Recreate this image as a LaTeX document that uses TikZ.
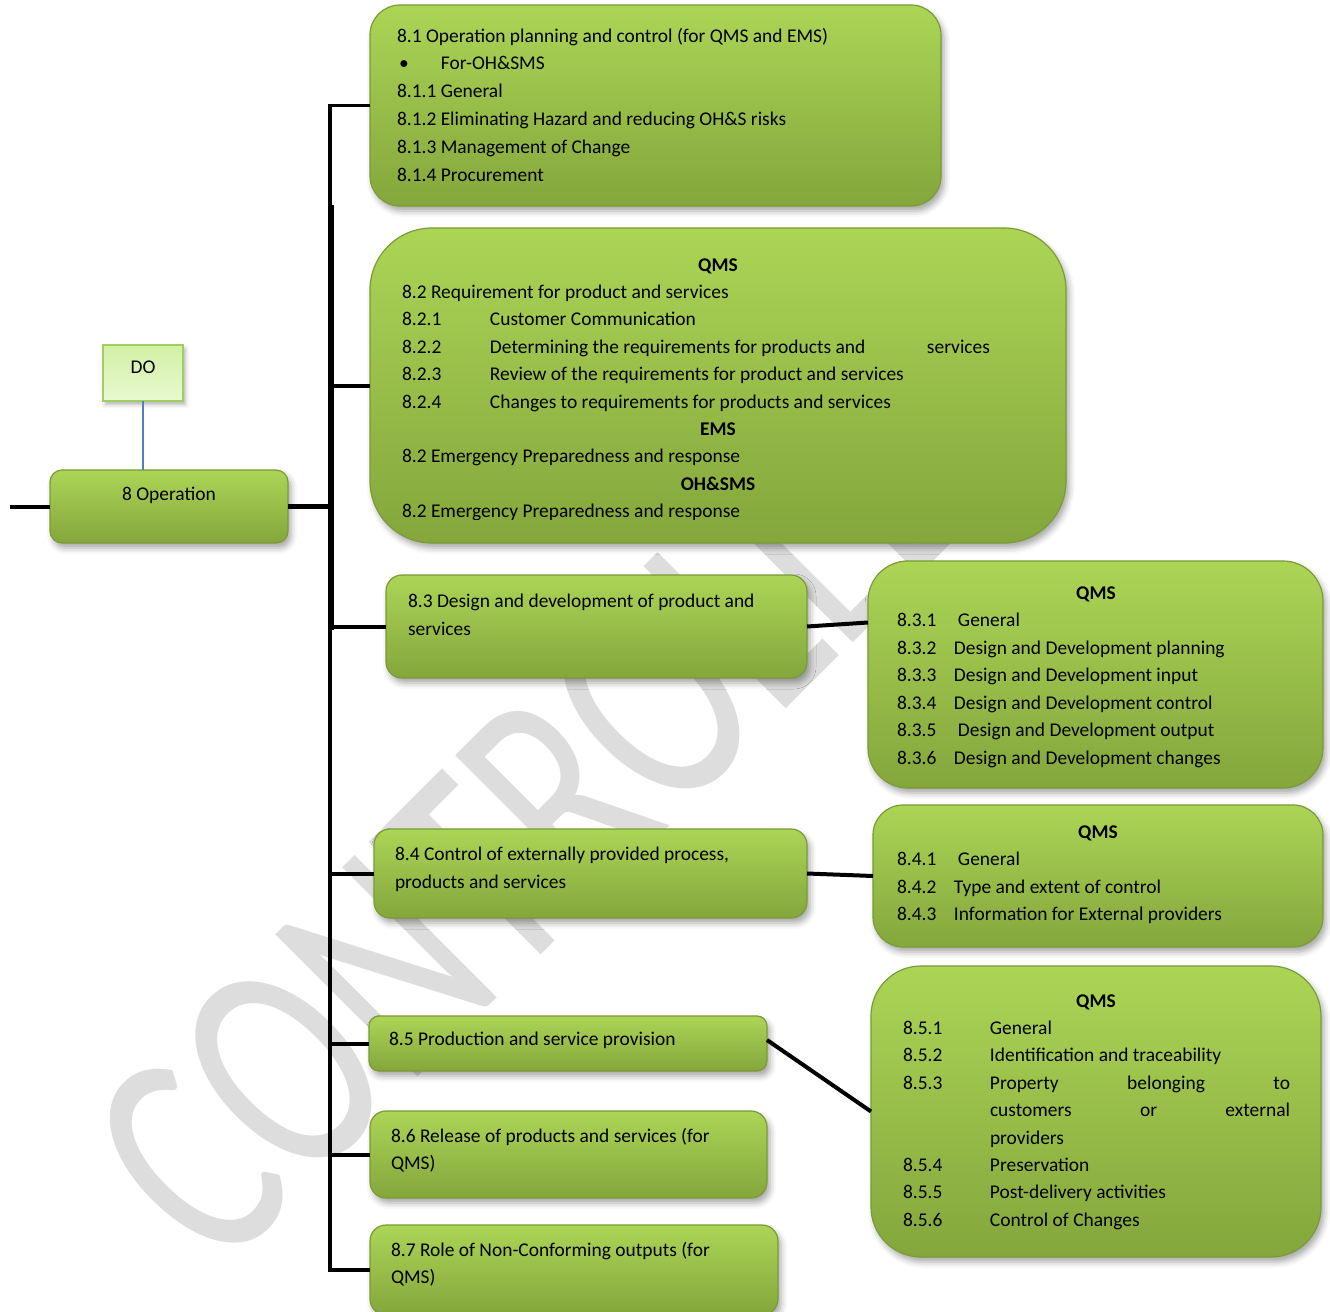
\documentclass[tikz,border=0pt]{standalone}
\usepackage{fontspec}
\setmainfont{Carlito}
\usetikzlibrary{shadows.blur}

\definecolor{gtop}{RGB}{172,213,86}
\definecolor{gbot}{RGB}{132,166,60}
\definecolor{gedge}{RGB}{122,156,52}
\definecolor{dtop}{RGB}{210,240,165}
\definecolor{dbot}{RGB}{232,249,208}
\definecolor{dedge}{RGB}{160,206,96}
\definecolor{blueline}{RGB}{79,129,189}
\definecolor{wmgray}{RGB}{221,221,221}

% one text line per node, stacked at a fixed baseline step
\newcommand\boxlines[5]{%
  \foreach \lineitem [count=\k from 0] in {#5}
    {\node[txt] (#1-\k) at ({#2},{#3+\k*#4}) {\lineitem};}}

\begin{document}
\begin{tikzpicture}[x=0.5pt,y=-0.5pt,
  every node/.style={inner sep=0pt, outer sep=0pt},
  gbox/.style={draw=gedge, line width=0.6pt, top color=gtop, bottom color=gbot,
    blur shadow={shadow xshift=1.5pt, shadow yshift=-2.5pt,
      shadow blur radius=3pt, shadow opacity=35}},
  dobox/.style={draw=dedge, line width=1pt, top color=dtop, bottom color=dbot,
    blur shadow={shadow xshift=1.2pt, shadow yshift=-1.8pt,
      shadow blur radius=2pt, shadow opacity=30}},
  txt/.style={anchor=base west, font=\fontsize{9.72}{13.8}\selectfont, text=black},
  ctxt/.style={anchor=base, font=\fontsize{9.72}{13.8}\selectfont, text=black},
  conn/.style={line width=2pt, black},
  wm/.style={font=\fontsize{112}{120}\selectfont, text=wmgray},
]
\useasboundingbox (0,0) rectangle (1330,1312);

% watermark, set in tall narrow letters
\node[wm, rotate=45] (stamp) at (580,773) {\scalebox{1}[1.4]{CONTROLLED}};

% boxes
\node[dobox, minimum width=40pt, minimum height=28pt] (do) at (143,373) {};
\node[gbox, rounded corners=6pt, minimum width=119pt, minimum height=36.5pt] (op) at (169,506.5) {};
\node[gbox, rounded corners=15pt, minimum width=285.5pt, minimum height=100.5pt] (b81) at (655.5,105.5) {};
\node[gbox, rounded corners=31pt, minimum width=348pt, minimum height=157.5pt] (b82) at (718,385.5) {};
\node[gbox, rounded corners=8pt, minimum width=210.5pt, minimum height=51.5pt] (b83) at (596.5,626.5) {};
\node[gbox, rounded corners=20pt, minimum width=227.5pt, minimum height=113.5pt] (d83) at (1095.5,674.5) {};
\node[gbox, rounded corners=8pt, minimum width=216.5pt, minimum height=44.5pt] (b84) at (590.5,873.5) {};
\node[gbox, rounded corners=15pt, minimum width=225pt, minimum height=71pt] (d84) at (1098,876) {};
\node[gbox, rounded corners=5pt, minimum width=199pt, minimum height=27.5pt] (b85) at (568,1043.5) {};
\node[gbox, rounded corners=25pt, minimum width=225pt, minimum height=145.5pt] (d85) at (1096,1111.5) {};
\node[gbox, rounded corners=8pt, minimum width=198.5pt, minimum height=43.5pt] (b86) at (568.5,1154.5) {};
\node[gbox, rounded corners=8pt, minimum width=204pt, minimum height=45pt] (b87) at (574,1270) {};

% connectors
\coordinate (tr) at (330,506.5);
\coordinate (inlet) at (10,506.5);
\coordinate (thickA) at (331,205);
\coordinate (thickB) at (331,630);
\draw[conn, line width=1.6pt] (b81.west) -| (tr) |- (b87.west);
\draw[conn, line width=2.8pt] (thickA) -- (thickB);
\foreach \b in {b82,b83,b84,b85,b86}
  \draw[conn] (tr |- \b.west) -- (\b.west);
\draw[conn, line width=2.5pt] (op.east) -- (tr);
\draw[conn] (inlet) -- (op.west);
\draw[blueline, line width=0.6pt] (do.south) -- (do.south |- op.north);
\draw[conn] (b83.east) -- ([yshift=26pt]d83.west);
\draw[conn] (b84.east) -- (d84.west);
\draw[conn] ([yshift=1.75pt]b85.east) -- (d85.west);

% texts
\node[ctxt] (do-t) at (143,373) {DO};
\node[ctxt] (op-t) at (169,500) {8 Operation};

\boxlines{t81}{397}{42}{27.8}{%
  {8.1 Operation planning and control (for QMS and EMS)},
  {\makebox[22pt][l]{\kern1pt •}For-OH\&SMS},
  {8.1.1 General},
  {8.1.2 Eliminating Hazard and reducing OH\&S risks},
  {8.1.3 Management of Change},
  {8.1.4 Procurement}}

\begin{scope}
\clip (370,228) rectangle (1066,519.5);
\boxlines{t82}{402}{271}{27.4}{%
  {\makebox[316pt][c]{\bfseries QMS}},
  {8.2 Requirement for product and services},
  {\makebox[44pt][l]{8.2.1}Customer Communication},
  {\makebox[44pt][l]{8.2.2}\makebox[218.5pt][l]{Determining the requirements for products and}services},
  {\makebox[44pt][l]{8.2.3}Review of the requirements for product and services},
  {\makebox[44pt][l]{8.2.4}Changes to requirements for products and services},
  {\makebox[316pt][c]{\bfseries EMS}},
  {8.2 Emergency Preparedness and response},
  {\makebox[316pt][c]{\bfseries OH\&SMS}},
  {8.2 Emergency Preparedness and response}}
\end{scope}

\boxlines{t83}{408}{607}{28}{%
  {8.3 Design and development of product and},
  {services}}

\boxlines{u83}{897}{599}{27.5}{%
  {\makebox[199pt][c]{\bfseries QMS}},
  {\makebox[30.5pt][l]{8.3.1}General},
  {\makebox[28.5pt][l]{8.3.2}Design and Development planning},
  {\makebox[28.5pt][l]{8.3.3}Design and Development input},
  {\makebox[28.5pt][l]{8.3.4}Design and Development control},
  {\makebox[30.5pt][l]{8.3.5}Design and Development output},
  {\makebox[28.5pt][l]{8.3.6}Design and Development changes}}

\boxlines{t84}{395}{860}{28}{%
  {8.4 Control of externally provided process,},
  {products and services}}

\boxlines{u84}{897}{838}{27.5}{%
  {\makebox[201pt][c]{\bfseries QMS}},
  {\makebox[30.5pt][l]{8.4.1}General},
  {\makebox[28.5pt][l]{8.4.2}Type and extent of control},
  {\makebox[28.5pt][l]{8.4.3}Information for External providers}}

\boxlines{t85}{389}{1045}{27.5}{{8.5 Production and service provision}}

\boxlines{u85}{903}{1007}{27.4}{%
  {\makebox[193pt][c]{\bfseries QMS}},
  {\makebox[43.5pt][l]{8.5.1}General},
  {\makebox[43.5pt][l]{8.5.2}Identification and traceability},
  {\makebox[43.5pt][l]{8.5.3}\makebox[150pt][l]{Property\hfill belonging\hfill to}},
  {\hspace*{43.5pt}\makebox[150pt][l]{customers\hfill or\hfill external}},
  {\hspace*{43.5pt}providers},
  {\makebox[43.5pt][l]{8.5.4}Preservation},
  {\makebox[43.5pt][l]{8.5.5}Post-delivery activities},
  {\makebox[43.5pt][l]{8.5.6}Control of Changes}}

\boxlines{t86}{391}{1142}{27.5}{%
  {8.6 Release of products and services (for},
  {QMS)}}

\boxlines{t87}{391}{1256}{27.5}{%
  {8.7 Role of Non-Conforming outputs (for},
  {QMS)}}

\end{tikzpicture}
\end{document}
